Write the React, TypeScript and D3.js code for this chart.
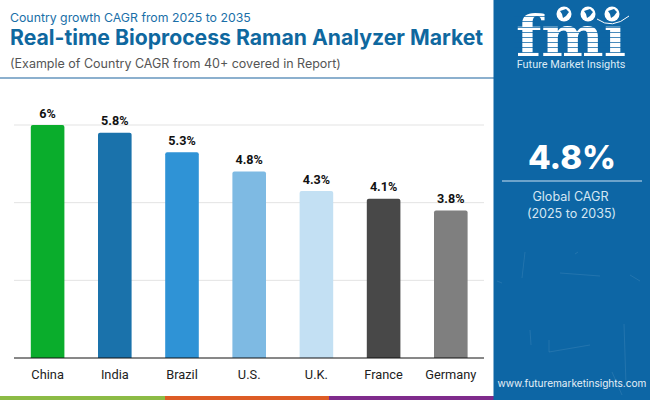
import React from "react";
import * as d3 from "d3";

const countries = ["China", "India", "Brazil", "U.S.", "U.K.", "France", "Germany"];
const cagr = [6, 5.8, 5.3, 4.8, 4.3, 4.1, 3.8];
const barColors = ["#0AAD2C", "#1A72AB", "#2F93D6", "#7EBAE3", "#C3E0F3", "#484848", "#7F7F7F"];
const gridTicks = [2, 4, 6];
const footerColors = ["#8CBB45", "#DD5C26", "#7F2B8C"];
const footerStops = [0, 165, 329, 494];

const headFont = "Inter, 'Noto Sans', sans-serif";
const bodyFont = "Roboto, sans-serif";
const panelBlue = "#0D66A5";

const x = d3.scaleBand<string>().domain(countries).range([14, 484.4]).paddingInner(0.5).paddingOuter(0.25);
const y = d3.scaleLinear().domain([0, 6]).range([358, 125]);

// stripes cut through the logo wordmark
const stripeRows = [16, 21, 27, 32, 37, 42, 47, 52];
const globes = [564, 588, 612];
const speckle = ["M525,252L522,278", "M624,324L626,385", "M549,340V352L590,345", "M630,275L640,281", "M497,281L502,283", "M530,330L531,345", "M612,372L622,395", "M575,254L578,252", "M560,273L600,276"];

export default function App(): JSX.Element {
  document.body.style.margin = "0";

  return (
    <svg width={650} height={400} style={{ display: "block", background: "#fff" }}>
      <text x={10} y={22} fontFamily={headFont} fontSize={12.3} fill="#1A6FA8">
        Country growth CAGR from 2025 to 2035
      </text>
      <text x={10} y={45} fontFamily={headFont} fontSize={21.2} fontWeight={700} fill="#0F689F">
        Real-time Bioprocess Raman Analyzer Market
      </text>
      <text x={10} y={68} fontFamily={headFont} fontSize={12.5} fill="#555">
        (Example of Country CAGR from 40+ covered in Report)
      </text>
      <line x1={0} x2={494} y1={78} y2={78} stroke="#8CB0CE" strokeWidth={2} />

      {gridTicks.map((t) => (
        <line key={t} x1={14} x2={484} y1={y(t)} y2={y(t)} stroke="#E3E3E3" strokeWidth={1} />
      ))}

      {countries.map((c, i) => {
        const bx = x(c)!;
        const top = y(cagr[i]);
        const cx = bx + x.bandwidth() / 2;
        return (
          <g key={c}>
            <path
              d={`M${bx},358V${top + 2}q0,-2 2,-2H${bx + x.bandwidth() - 2}q2,0 2,2V358Z`}
              fill={barColors[i]}
            />
            <text x={cx} y={top - 7.3} textAnchor="middle" fontFamily={bodyFont} fontSize={12.6} fontWeight={700} fill="#111">
              {cagr[i]}%
            </text>
            <text x={cx} y={378.5} textAnchor="middle" fontFamily={bodyFont} fontSize={12.8} fill="#222">
              {c}
            </text>
          </g>
        );
      })}
      <line x1={14} x2={484} y1={y(0)} y2={y(0)} stroke="#111" strokeWidth={1} />

      {footerColors.map((col, i) => (
        <rect key={col} x={footerStops[i]} y={396} width={footerStops[i + 1] - footerStops[i]} height={4} fill={col} />
      ))}

      <rect x={493.5} y={0} width={156.5} height={400} fill={panelBlue} />
      {speckle.map((d) => (
        <path key={d} d={d} fill="none" stroke="#fff" strokeOpacity={0.09} strokeWidth={1} />
      ))}

      <text x={516} y={56} fontFamily="'DejaVu Serif', serif" fontSize={56} fontWeight={700} fill="#fff" textLength={110} lengthAdjust="spacingAndGlyphs">
        fmı
      </text>
      {stripeRows.map((r) => (
        <rect key={r} x={514} y={r} width={116} height={1} fill={panelBlue} fillOpacity={0.75} />
      ))}
      {globes.map((g) => (
        <g key={g}>
          <circle cx={g} cy={14} r={7.5} fill="#fff" />
          <path d={`M${g - 4},${11}l6,-2l3,3l-3,4l-3,2l-1,-4Z`} fill={panelBlue} />
        </g>
      ))}
      <path d="M597,19Q612,30 629,16" fill="none" stroke="#fff" strokeWidth={1} />
      <text x={571} y={68} textAnchor="middle" fontFamily={bodyFont} fontSize={10.9} fill="#DCEBF6">
        Future Market Insights
      </text>

      <text x={572} y={169} textAnchor="middle" fontFamily={headFont} fontSize={33} fontWeight={800} fill="#fff">
        4.8%
      </text>
      <line x1={502} x2={642} y1={181} y2={181} stroke="#8DB8D8" strokeWidth={1.5} />
      <text x={570.5} y={200.7} textAnchor="middle" fontFamily={headFont} fontSize={12.6} fill="#D5E6F3">
        Global CAGR
      </text>
      <text x={571.5} y={218} textAnchor="middle" fontFamily={headFont} fontSize={12.5} fill="#D5E6F3">
        (2025 to 2035)
      </text>
      <text x={572} y={386.7} textAnchor="middle" fontFamily={headFont} fontSize={10.1} fill="#E6F0F8">
        www.futuremarketinsights.com
      </text>
    </svg>
  );
}
